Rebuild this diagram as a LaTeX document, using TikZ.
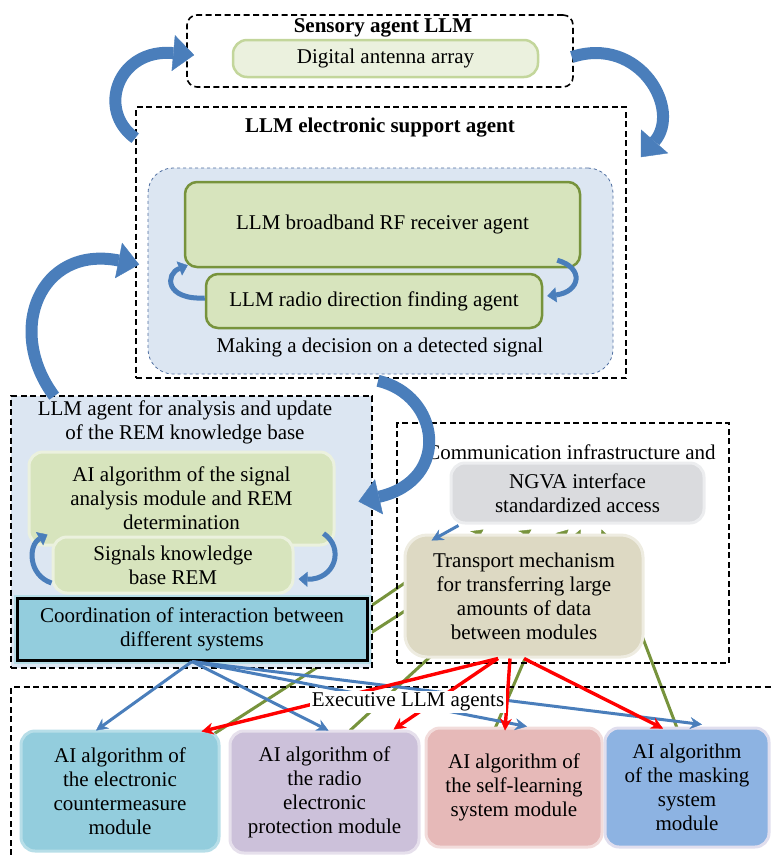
\documentclass[tikz,border=0pt]{standalone}
\usepackage{fontspec}
\setmainfont{Liberation Serif}
\usetikzlibrary{arrows.meta,calc}

\definecolor{fatblue}{RGB}{74,126,187}
\definecolor{esfill}{RGB}{220,230,242}
\definecolor{esline}{RGB}{79,110,160}
\definecolor{bbfill}{RGB}{215,228,189}
\definecolor{bbline}{RGB}{119,147,60}
\definecolor{darfill}{RGB}{235,241,222}
\definecolor{darline}{RGB}{195,214,155}
\definecolor{cmfill}{RGB}{147,205,221}
\definecolor{cmline}{RGB}{183,222,232}
\definecolor{rpfill}{RGB}{204,193,218}
\definecolor{rpline}{RGB}{230,224,236}
\definecolor{slfill}{RGB}{230,185,184}
\definecolor{slline}{RGB}{242,220,219}
\definecolor{msfill}{RGB}{141,179,226}
\definecolor{msline}{RGB}{224,222,238}
\definecolor{ngfill}{RGB}{218,219,222}
\definecolor{ngline}{RGB}{236,237,239}
\definecolor{trfill}{RGB}{221,217,195}
\definecolor{trline}{RGB}{238,236,225}
\definecolor{grline}{RGB}{119,147,60}

\pgfdeclarelayer{back}
\pgfsetlayers{back,main}

\tikzset{
  txt/.style={font=\fontsize{21}{24}\selectfont, align=center, inner sep=0pt},
  titletxt/.style={font=\fontsize{21}{24}\selectfont\bfseries, inner sep=0pt},
  dashbox/.style={draw=black, line width=1.6pt, dash pattern=on 6pt off 3.5pt},
  greenbox/.style={draw=bbline, fill=bbfill, line width=2.5pt, rounded corners=12pt},
  softbox/.style={line width=3pt, rounded corners=14pt},
  fatarrow/.style={draw=fatblue, line width=12pt,
    -{Triangle[length=21pt,width=36pt,line width=0.4pt]}},
  smallarrow/.style={draw=fatblue, line width=5pt,
    -{Triangle[length=9pt,width=15pt,line width=0.4pt]}},
  thinarrow/.style={line width=3pt,
    -{Stealth[length=12pt,width=12pt,inset=4pt,line width=0.4pt]}}
}

\begin{document}
\begin{tikzpicture}[x=1pt,y=-1pt]
\useasboundingbox (0,0) rectangle (772,855);

% sensory agent
\node[dashbox, rounded corners=10pt, minimum width=386pt, minimum height=72pt] (sens) at (380,51) {};
\node[titletxt] (senst) at (383,28) {Sensory agent LLM};
\node[softbox, line width=2.5pt, draw=darline, fill=darfill, minimum width=305pt, minimum height=37pt, txt] (dar) at (385.5,58.5) {Digital antenna array};

% electronic support agent
\node[dashbox, minimum width=490pt, minimum height=271pt] (es) at (381,242.5) {};
\node[titletxt] (est) at (380,128) {LLM electronic support agent};
\node[draw=esline, dashed, line width=0.8pt, fill=esfill, rounded corners=25pt, minimum width=465pt, minimum height=206pt] (esin) at (380.5,271) {};
\node[greenbox, minimum width=395pt, minimum height=85pt, txt] (bb) at (382.5,224.5) {LLM broadband RF receiver agent};
\node[greenbox, minimum width=336pt, minimum height=54pt, txt] (rdf) at (374,301) {LLM radio direction finding agent};
\node[txt] (dec) at (380,347) {Making a decision on a detected signal};

% REM agent
\node[dashbox, fill=esfill, minimum width=361pt, minimum height=272pt] (rem) at (191.5,532) {};
\node[txt] (remt) at (185,422) {LLM agent for analysis and update\\of the REM knowledge base};
\node[softbox, draw=darfill, fill=bbfill, minimum width=305pt, minimum height=93pt, txt] (ai) at (181.5,498.5) {AI algorithm of the signal\\analysis module and REM\\determination};
\node[softbox, draw=darfill, fill=bbfill, minimum width=240pt, minimum height=56pt, txt] (skb) at (173,565) {Signals knowledge\\base REM};
\node[draw=black, line width=3pt, preaction={draw=cmline, line width=7pt}, fill=cmfill, minimum width=350pt, minimum height=62pt, txt] (coord) at (192,629) {Coordination of interaction between\\different systems};

% communication infrastructure
\node[dashbox, minimum width=332pt, minimum height=240pt] (comm) at (563,543) {};
\node[txt] (commt) at (571,452) {Communication infrastructure and};
\node[softbox, draw=ngline, fill=ngfill, minimum width=253pt, minimum height=60pt, txt] (ngva) at (577.5,493) {NGVA interface\\standardized access};
\node[softbox, rounded corners=22pt, draw=trline, fill=trfill, minimum width=238pt, minimum height=122pt, txt] (trans) at (524,596) {Transport mechanism\\for transferring large\\amounts of data\\between modules};

% executive agents
\draw[dashbox] (11,855) -- (11,687) -- (772,687);
\node[softbox, draw=cmline, fill=cmfill, minimum width=198pt, minimum height=120pt, txt] (m1) at (120,791) {AI algorithm of\\the electronic\\countermeasure\\module};
\node[softbox, draw=rpline, fill=rpfill, minimum width=189pt, minimum height=122pt, txt] (m2) at (324.5,792) {AI algorithm of\\the radio\\electronic\\protection module};
\node[softbox, draw=slline, fill=slfill, minimum width=176pt, minimum height=119pt, txt] (m3) at (514,787.5) {AI algorithm of\\the self-learning\\system module};
\node[softbox, draw=msline, fill=msfill, minimum width=164pt, minimum height=119pt, txt] (m4) at (687,787.5) {AI algorithm\\of the masking\\system\\module};

% data links to NGVA
\begin{pgfonlayer}{back}
\foreach \s/\sx/\sy/\t in {coord.east/-27/-3/34, m1.north east/-6/4/82, m2.north/25.5/1/119, m3.north/-19/2/131, m4.north/-9/4/152}
{
\draw[thinarrow, draw=grline] ($(\s)+(\sx,\sy)$) -- ($(ngva.south west)+(\t,5)$);
}
\end{pgfonlayer}

\draw[thinarrow, draw=fatblue] ($(ngva.south west)+(9,1)$) -- ($(trans.north west)+(28,7)$);

% coordination links
\draw[thinarrow, draw=fatblue] (coord.south) -- ($(m1.north)+(-24,1)$);
\draw[thinarrow, draw=fatblue] (coord.south) -- ($(m2.north)+(4,1)$);
\draw[thinarrow, draw=fatblue] (coord.south) -- ($(m3.north)+(13,0)$);
\draw[thinarrow, draw=fatblue] (coord.south) -- ($(m4.north)+(15,-2)$);

% transport links
\draw[thinarrow, line width=3.4pt, draw=red] ($(trans.south)+(-26,0)$) -- ($(m1.north east)+(-19,2)$);
\draw[thinarrow, line width=3.4pt, draw=red] ($(trans.south)+(-26,0)$) -- ($(m2.north east)+(-27,0)$);
\draw[thinarrow, line width=3.4pt, draw=red] ($(trans.south)+(-14,0)$) -- ($(m3.north)+(-9,4)$);
\draw[thinarrow, line width=3.4pt, draw=red] (trans.south) -- ($(m4.north)+(-24,2)$);

\node[txt, fill=white, inner sep=2pt] (exect) at (408,702) {Executive LLM agents};

% big curved arrows
\draw[fatarrow] ($(es.north west)+(0,32)$) .. controls (96,110) and (118,48) .. ($(sens.west)+(8,4)$);
\draw[fatarrow] ($(sens.east)+(-2,6)$) .. controls (640,35) and (682,110) .. ($(es.north east)+(14,51)$);
\draw[fatarrow] ($(rem.north west)+(44,1)$) .. controls (5,330) and (40,245) .. ($(es.west)+(4,22)$);
\draw[fatarrow] ($(es.south)+(-3,2)$) .. controls (440,395) and (452,480) .. ($(ai.east)+(23,3)$);

% small loops
\draw[smallarrow] ($(rdf.west)+(0,-3)$) .. controls (165,300) and (165,274) .. ($(bb.south west)+(4,-3)$);
\draw[smallarrow] ($(bb.south east)+(-24,-8)$) .. controls (585,268) and (580,292) .. ($(rdf.east)+(4,-5)$);
\draw[smallarrow] ($(skb.west)+(0,18)$) .. controls (28,575) and (28,545) .. ($(ai.south west)+(20,-12)$);
\draw[smallarrow] ($(ai.south east)+(-12,-13)$) .. controls (345,548) and (335,580) .. ($(skb.east)+(4,14)$);

\end{tikzpicture}
\end{document}
